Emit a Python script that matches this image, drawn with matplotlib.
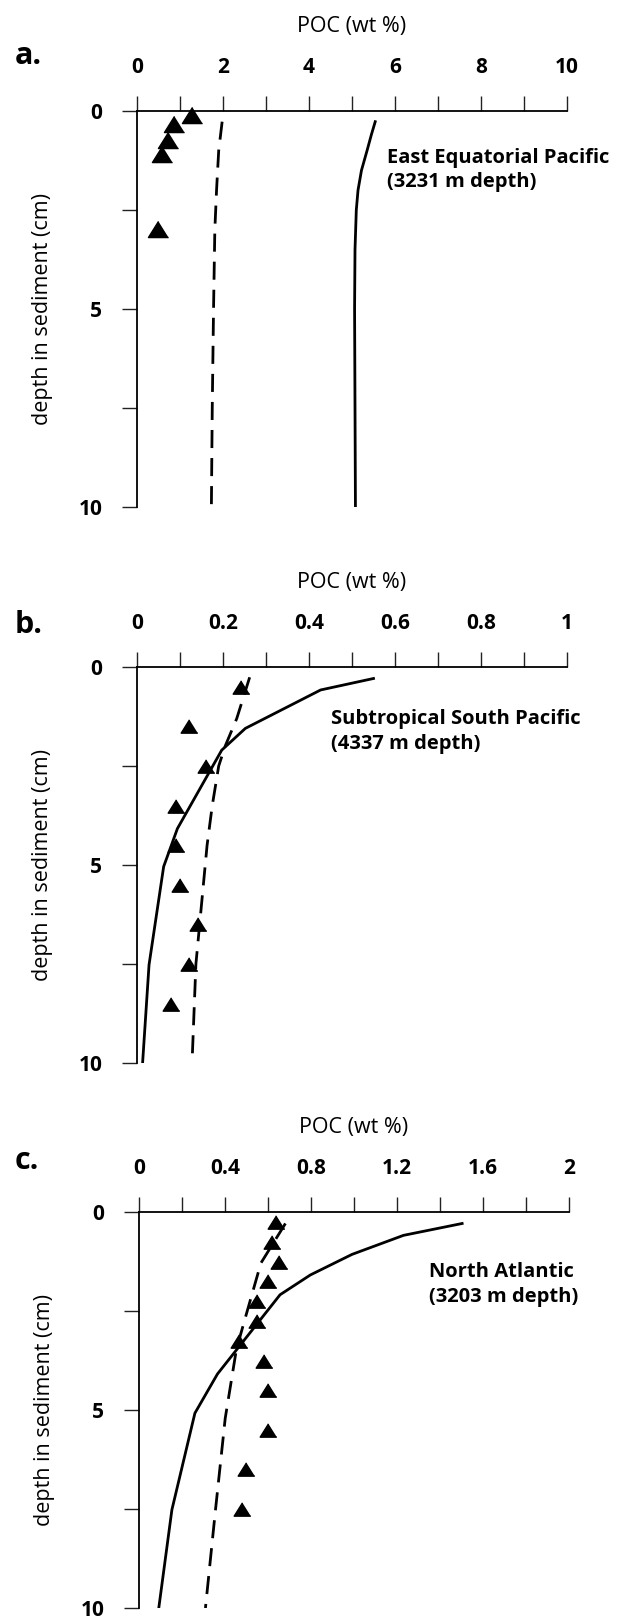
import numpy as np
import matplotlib
matplotlib.use('Agg')
import matplotlib.pyplot as plt

plt.rcParams['font.family'] = ['Open Sans', 'DejaVu Sans']

# panel a - East Equatorial Pacific
a_obs_poc = [1.28, 0.85, 0.73, 0.57, 0.48]
a_obs_depth = [0.09, 0.34, 0.72, 1.09, 2.99]
a_solid_poc = [5.54, 5.45, 5.35, 5.22, 5.14, 5.10, 5.07, 5.06, 5.07, 5.08]
a_solid_depth = [0.27, 0.6, 1.0, 1.5, 2.0, 2.5, 3.5, 5.0, 7.5, 10.0]
a_dash_poc = [1.98, 1.90, 1.85, 1.81, 1.78, 1.75, 1.73]
a_dash_depth = [0.27, 1.0, 2.0, 3.0, 5.0, 7.5, 10.0]

# panel b - Subtropical South Pacific
b_obs_poc = [0.243, 0.122, 0.160, 0.091, 0.091, 0.101, 0.142, 0.122, 0.080]
b_obs_depth = [0.5, 1.5, 2.5, 3.5, 4.5, 5.5, 6.5, 7.5, 8.5]
b_solid_poc = [0.55, 0.427, 0.252, 0.197, 0.094, 0.062, 0.028, 0.013]
b_solid_depth = [0.29, 0.58, 1.55, 2.1, 4.08, 5.04, 7.52, 10.0]
b_dash_poc = [0.262, 0.232, 0.205, 0.19, 0.175, 0.163, 0.15, 0.137, 0.128]
b_dash_depth = [0.26, 1.3, 2.0, 2.5, 3.5, 4.5, 6.0, 7.5, 10.0]

# panel c - North Atlantic
c_obs_poc = [0.635, 0.619, 0.650, 0.600, 0.549, 0.549, 0.466, 0.580, 0.600, 0.600, 0.497, 0.479]
c_obs_depth = [0.25, 0.75, 1.25, 1.75, 2.25, 2.75, 3.25, 3.75, 4.5, 5.5, 6.5, 7.5]
c_solid_poc = [1.503, 1.230, 0.991, 0.797, 0.656, 0.365, 0.260, 0.153, 0.092]
c_solid_depth = [0.29, 0.59, 1.07, 1.59, 2.09, 4.09, 5.08, 7.52, 10.0]
c_dash_poc = [0.681, 0.567, 0.494, 0.453, 0.401, 0.355, 0.309]
c_dash_depth = [0.29, 1.29, 2.68, 3.47, 5.21, 7.56, 10.0]

W, H = 619, 1621
fig = plt.figure(figsize=(W / 100, H / 100), dpi=100)

tri = [(0, 0.8), (-1, -0.8), (1, -0.8)]


def make_axes(left, top, xmax, major, minor, fmt):
    ax = fig.add_axes([left / W, 1 - (top + 396) / H, 430 / W, 396 / H])
    ax.set_xlim(0, xmax)
    ax.set_ylim(10, 0)
    for s in ['right', 'bottom']:
        ax.spines[s].set_visible(False)
    for s in ['top', 'left']:
        ax.spines[s].set_linewidth(1.3)
    ax.xaxis.set_ticks_position('top')
    ax.xaxis.set_label_position('top')
    ax.set_xticks(major)
    ax.set_xticklabels([fmt(v) for v in major], fontweight='bold', fontsize=15)
    ax.set_xticks(minor, minor=True)
    ax.set_yticks([0, 5, 10])
    ax.set_yticklabels(['0', '5', '10'], fontweight='bold', fontsize=15)
    ax.set_yticks([2.5, 7.5], minor=True)
    ax.tick_params(which='both', direction='out', length=11, width=1.0, color='#222222')
    ax.tick_params(axis='x', which='both', pad=13)
    ax.tick_params(axis='y', which='both', pad=14)
    ax.set_xlabel('POC (wt %)', fontsize=15.5, labelpad=18)
    ax.set_ylabel('depth in sediment (cm)', fontsize=15.5, labelpad=18)
    return ax


# a
ax1 = make_axes(137, 111, 10, [0, 2, 4, 6, 8, 10], np.arange(0, 11, 1), lambda v: '%g' % v)
ax1.plot(a_solid_poc, a_solid_depth, color='black', lw=2.0)
ax1.plot(a_dash_poc, a_dash_depth, color='black', lw=2.0, dashes=(6.5, 3.6))
ax1.plot(a_obs_poc, a_obs_depth, linestyle='none', marker=tri, ms=14.5, color='black', clip_on=False)
ax1.text(5.81, 1.49, 'East Equatorial Pacific\n(3231 m depth)', fontsize=14.5, fontweight='bold',
         va='center', ha='left', linespacing=1.3)
fig.text(15 / W, 1 - 64 / H, 'a.', fontsize=22, fontweight='bold', va='baseline', ha='left')

# b
ax2 = make_axes(137, 667, 1, [0, 0.2, 0.4, 0.6, 0.8, 1], np.arange(0, 1.01, 0.1), lambda v: '%g' % v)
ax2.plot(b_solid_poc, b_solid_depth, color='black', lw=2.0)
ax2.plot(b_dash_poc, b_dash_depth, color='black', lw=2.0, dashes=(6.5, 3.6))
ax2.plot(b_obs_poc, b_obs_depth, linestyle='none', marker=tri, ms=12, color='black', clip_on=False)
ax2.text(0.451, 1.63, 'Subtropical South Pacific\n(4337 m depth)', fontsize=14.5, fontweight='bold',
         va='center', ha='left', linespacing=1.3)
fig.text(15 / W, 1 - 633 / H, 'b.', fontsize=22, fontweight='bold', va='baseline', ha='left')

# c
ax3 = make_axes(139, 1212, 2, [0, 0.4, 0.8, 1.2, 1.6, 2], np.arange(0, 2.01, 0.2), lambda v: '%g' % v)
ax3.plot(c_solid_poc, c_solid_depth, color='black', lw=2.0)
ax3.plot(c_dash_poc, c_dash_depth, color='black', lw=2.0, dashes=(6.5, 3.6))
ax3.plot(c_obs_poc, c_obs_depth, linestyle='none', marker=tri, ms=12, color='black', clip_on=False)
ax3.text(1.349, 1.83, 'North Atlantic\n(3203 m depth)', fontsize=14.5, fontweight='bold',
         va='center', ha='left', linespacing=1.3)
fig.text(15 / W, 1 - 1169 / H, 'c.', fontsize=22, fontweight='bold', va='baseline', ha='left')

plt.savefig('out.png', dpi=100)
